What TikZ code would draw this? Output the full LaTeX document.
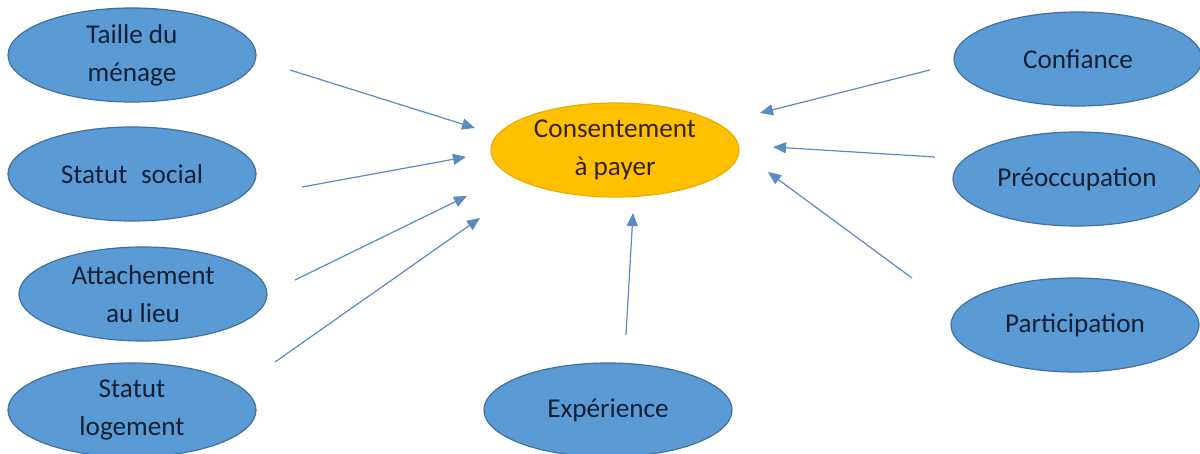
\documentclass[tikz,border=0pt]{standalone}
\usepackage{fontspec}
\setmainfont{Carlito}
\usetikzlibrary{arrows.meta,shapes.geometric}
\definecolor{blfill}{HTML}{5B9BD5}
\definecolor{bldraw}{HTML}{41719C}
\definecolor{bltext}{HTML}{122036}
\definecolor{orfill}{HTML}{FFC000}
\definecolor{ordraw}{HTML}{E8AE00}
\definecolor{ortext}{HTML}{33240A}
\definecolor{arrcol}{HTML}{5A8CC4}
\tikzset{
  factor/.style={ellipse, fill=blfill, draw=bldraw, line width=0.6pt, text=bltext,
    minimum width=124pt, minimum height=47pt, inner sep=0pt, align=center,
    font=\fontsize{13.6}{19}\selectfont},
  target/.style={factor, fill=orfill, draw=ordraw, text=ortext},
  arr/.style={draw=arrcol, line width=0.6pt, -{Triangle[length=6.5pt,width=5.5pt]}}
}
\begin{document}
\begin{tikzpicture}[x=0.5pt,y=-0.5pt]
\useasboundingbox (0,0) rectangle (1200,454);
\fill[white] (0,0) rectangle (1200,454);
\node[factor] (taille) at (132,55) {Taille du\\ménage};
\node[factor] (social) at (132,174) {Statut\hspace{0.5em}social};
\node[factor] (attach) at (143,294) {Attachement\\au lieu};
\node[factor] (logement) at (132,410) {Statut\\logement};
\node[target] (cap) at (615,150) {Consentement\\à payer};
\node[factor] (exp) at (608,410) {Expérience};
\node[factor] (conf) at (1078,59) {Confiance};
\node[factor] (preo) at (1077,179) {Préoccupation};
\node[factor] (part) at (1075,325) {Participation};
\coordinate (s1) at (290,70);  \coordinate (e1) at (475,128);
\coordinate (s2) at (302,187); \coordinate (e2) at (466,157);
\coordinate (s3) at (295,280); \coordinate (e3) at (467,196);
\coordinate (s4) at (275,362); \coordinate (e4) at (480,218);
\coordinate (s5) at (626,335); \coordinate (e5) at (633,213);
\coordinate (s6) at (930,70);  \coordinate (e6) at (760,113);
\coordinate (s7) at (935,157); \coordinate (e7) at (773,147);
\coordinate (s8) at (912,278); \coordinate (e8) at (768,172);
\draw[arr] (s1) -- (e1);
\draw[arr] (s2) -- (e2);
\draw[arr] (s3) -- (e3);
\draw[arr] (s4) -- (e4);
\draw[arr] (s5) -- (e5);
\draw[arr] (s6) -- (e6);
\draw[arr] (s7) -- (e7);
\draw[arr] (s8) -- (e8);
\end{tikzpicture}
\end{document}
